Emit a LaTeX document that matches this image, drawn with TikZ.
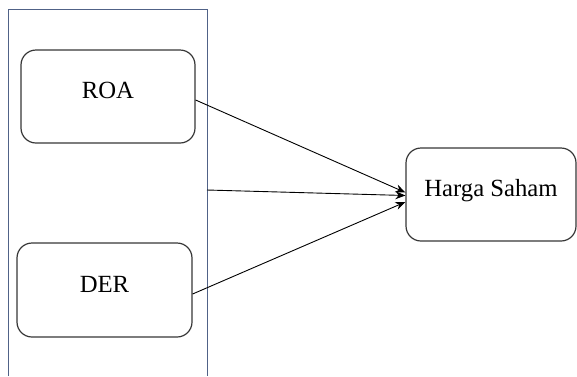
\documentclass[tikz,border=0pt]{standalone}
\usepackage{fontspec}
\setmainfont{Liberation Serif}
\usetikzlibrary{arrows.meta}
\definecolor{framecol}{RGB}{80,98,135}
\definecolor{boxcol}{RGB}{55,55,55}
\tikzset{
  varbox/.style={draw=boxcol, line width=1.2pt, rounded corners=15pt, fill=white,
    inner sep=0pt, text height=17pt, text depth=12.5pt,
    font=\fontsize{24.7}{29}\selectfont},
  link/.style={draw=black, line width=0.9pt, -{Stealth[length=10pt,width=8pt]}},
  frame/.style={draw=framecol, line width=1pt}
}
\begin{document}
\begin{tikzpicture}[x=1pt,y=-1pt]
\useasboundingbox (0,0) rectangle (577,376);
\draw[frame] (8,376) -- (8,9) -- (207,9) -- (207,376);
\coordinate (frameR) at (207,190);
\node[varbox, minimum width=174pt, minimum height=93pt] (roa) at (108,96.5) {ROA};
\node[varbox, minimum width=175pt, minimum height=94pt] (der) at (104.5,290) {DER};
\node[varbox, minimum width=170pt, minimum height=93pt] (hs) at (491,194.5) {Harga Saham};
\draw[link] ([yshift=-3.5pt]roa.east) -- ([yshift=2pt]hs.west);
\draw[link] (frameR) -- ([yshift=-1pt]hs.west);
\draw[link] ([yshift=-4pt]der.east) -- ([yshift=-7.5pt]hs.west);
\end{tikzpicture}
\end{document}
